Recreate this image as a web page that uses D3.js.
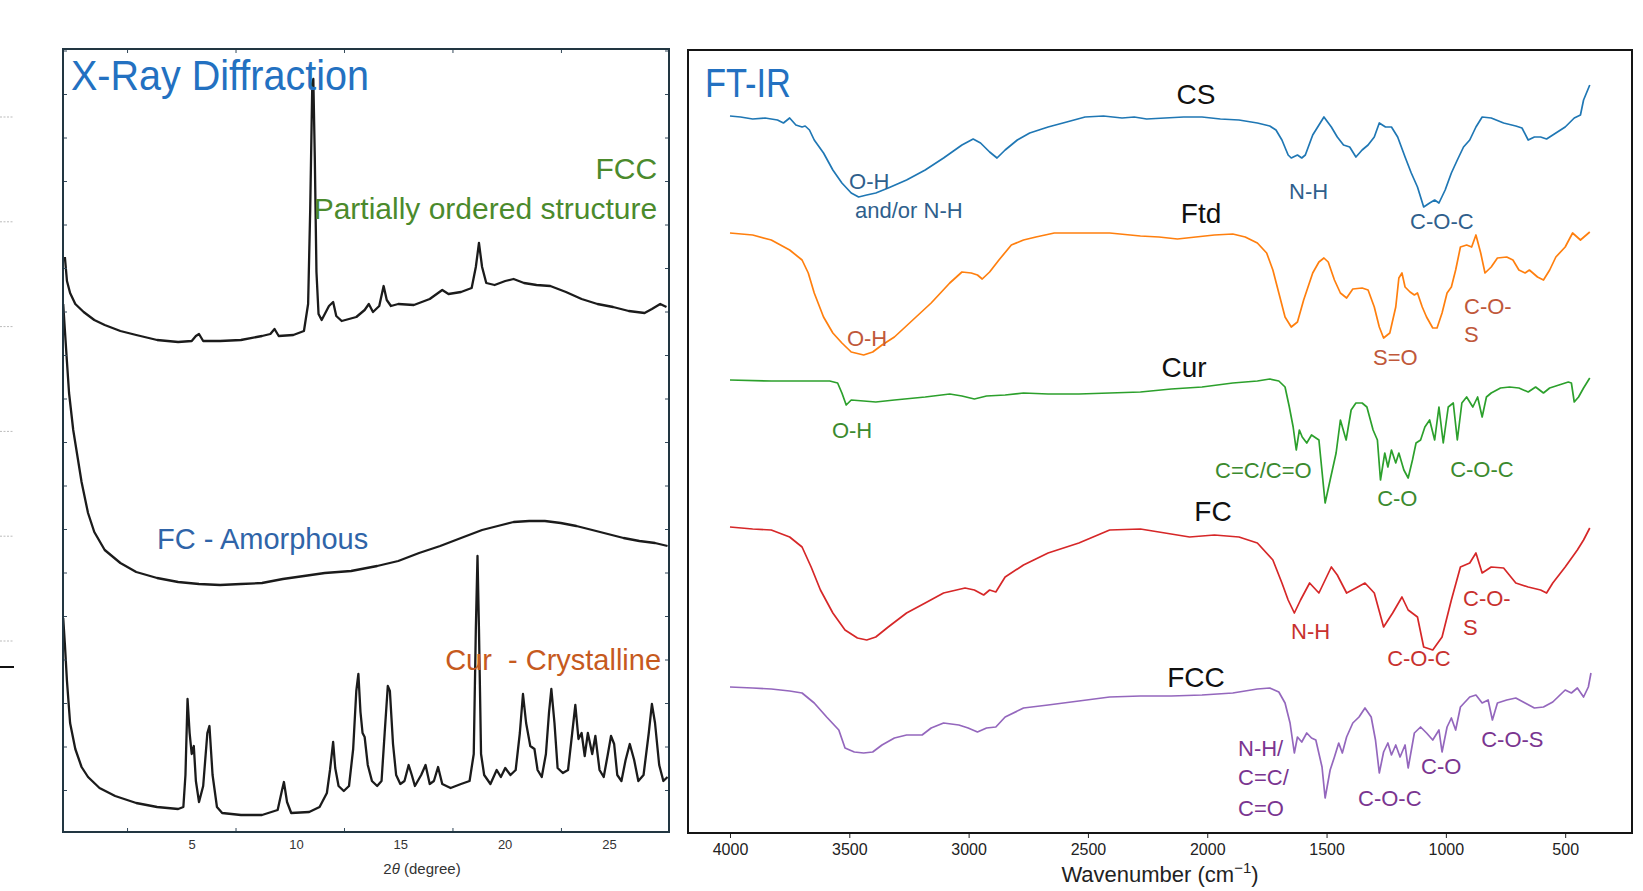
<!DOCTYPE html>
<html>
<head>
<meta charset="utf-8">
<script src="https://cdn.jsdelivr.net/npm/d3@7"></script>
<style>
  body { margin: 0; background: #fff; }
  text { font-family: "Liberation Sans", Arial, sans-serif; }
</style>
</head>
<body>
<svg id="chart" width="1643" height="891"></svg>
<script>
// ---- XRD patterns: [2theta (deg), intensity (a.u.)]
var xrdFCC = [[-1.08,575],[-0.98,551],[-0.83,539],[-0.58,528],[-0.18,520],[0.33,512],[0.83,507],[1.58,501],[2.34,497],[3.34,492],[4.35,490],[5.0,491],[5.2,496],[5.35,498],[5.55,491],[6.36,491],[7.36,492],[8.37,496],[8.77,498],[8.97,503],[9.17,496],[9.87,497],[10.38,501],[10.58,528],[10.68,622],[10.78,748],[10.83,753],[10.9,675],[10.98,560],[11.08,518],[11.23,512],[11.38,518],[11.58,526],[11.78,530],[11.93,516],[12.19,511],[12.89,515],[13.29,522],[13.49,528],[13.69,520],[13.99,526],[14.2,546],[14.35,532],[14.55,526],[14.9,528],[15.65,527],[16.41,533],[17.01,542],[17.31,538],[17.91,540],[18.42,544],[18.62,565],[18.77,589],[18.92,565],[19.12,549],[19.52,547],[20.03,551],[20.43,553],[20.93,549],[21.53,547],[22.19,546],[22.94,540],[23.69,533],[24.45,528],[25.2,525],[25.95,521],[26.71,519],[27.06,523],[27.46,528],[27.76,525]]
var xrdFC = [[-1.16,528],[-1.08,502],[-0.98,470],[-0.88,439],[-0.68,402],[-0.48,376],[-0.28,350],[0.03,319],[0.33,300],[0.83,282],[1.58,269],[2.34,260],[3.34,254],[4.35,250],[5.35,248],[6.36,247],[7.36,248],[8.37,249],[9.37,253],[10.38,256],[11.38,259],[12.64,261],[13.89,266],[14.9,271],[15.9,279],[16.91,286],[17.91,294],[18.92,302],[19.67,306],[20.43,310],[21.18,311],[21.93,311],[22.69,309],[23.44,306],[24.2,302],[24.95,298],[25.7,294],[26.46,291],[27.21,289],[27.81,286]]
var xrdCur = [[-1.16,214],[-1.08,188],[-0.98,151],[-0.83,109],[-0.58,83],[-0.28,65],[0.03,55],[0.58,44],[1.33,36],[2.34,29],[3.34,25],[4.35,23],[4.6,25],[4.7,57],[4.8,133],[4.9,99],[5.0,78],[5.1,86],[5.2,51],[5.35,30],[5.55,46],[5.75,99],[5.85,106],[6.0,57],[6.21,25],[6.46,19],[7.36,17],[8.37,17],[9.12,22],[9.32,41],[9.42,50],[9.57,30],[9.77,19],[10.63,20],[11.13,25],[11.48,39],[11.63,62],[11.78,90],[11.88,64],[12.04,46],[12.29,41],[12.54,46],[12.74,83],[12.89,141],[12.99,158],[13.09,120],[13.19,99],[13.29,95],[13.44,67],[13.64,51],[13.89,46],[14.1,51],[14.25,99],[14.4,146],[14.5,141],[14.65,88],[14.8,57],[15.0,48],[15.2,51],[15.4,67],[15.55,57],[15.7,46],[16.0,57],[16.21,67],[16.41,48],[16.61,51],[16.81,65],[17.01,48],[17.41,44],[17.91,48],[18.32,51],[18.52,78],[18.62,203],[18.7,276],[18.77,203],[18.87,78],[19.02,57],[19.32,48],[19.62,62],[19.82,55],[20.03,64],[20.28,57],[20.53,62],[20.73,99],[20.88,138],[21.03,109],[21.23,86],[21.43,83],[21.58,62],[21.78,55],[21.98,78],[22.13,120],[22.24,143],[22.39,109],[22.54,64],[22.79,59],[23.04,62],[23.24,99],[23.39,127],[23.54,93],[23.69,99],[23.84,76],[23.99,99],[24.2,78],[24.35,96],[24.55,62],[24.75,55],[24.95,78],[25.1,96],[25.25,88],[25.4,57],[25.6,51],[25.8,72],[26.0,88],[26.21,72],[26.41,51],[26.66,57],[26.91,99],[27.06,128],[27.21,109],[27.41,67],[27.61,51],[27.81,55]]
var xrdTicks = [5, 10, 15, 20, 25]
var xrdMinorTicks = [1.9, 7.1, 12.3, 17.5, 22.7]

// ---- FT-IR spectra: [wavenumber (cm-1), transmittance (a.u., offset)]
var irCS = [[4000,717],[3956,716],[3905,714],[3853,715],[3801,713],[3776,710],[3750,715],[3724,708],[3698,706],[3685,707],[3667,703],[3647,693],[3608,680],[3569,663],[3531,650],[3492,640],[3461,636],[3427,638],[3389,640],[3337,645],[3260,653],[3182,663],[3105,675],[3028,688],[2981,694],[2950,690],[2912,681],[2881,675],[2847,683],[2796,693],[2744,700],[2667,706],[2589,711],[2512,716],[2435,717],[2357,715],[2306,716],[2254,714],[2177,715],[2099,716],[2022,716],[1945,714],[1867,713],[1790,710],[1738,707],[1712,703],[1687,693],[1661,678],[1648,675],[1622,678],[1604,675],[1589,678],[1558,698],[1511,716],[1480,706],[1455,696],[1429,688],[1403,686],[1377,676],[1351,683],[1326,688],[1300,696],[1279,710],[1253,706],[1228,706],[1202,696],[1171,676],[1145,660],[1132,653],[1119,646],[1106,636],[1093,626],[1068,630],[1047,633],[1029,630],[1003,643],[977,660],[952,673],[926,686],[900,693],[874,706],[848,716],[810,715],[758,710],[707,707],[681,705],[655,693],[629,696],[603,696],[578,694],[552,698],[500,706],[462,715],[436,718],[423,733],[397,748]]
var irFtd = [[4000,600],[3905,598],[3827,593],[3750,583],[3698,573],[3672,560],[3647,540],[3608,516],[3569,500],[3531,490],[3492,481],[3440,478],[3402,481],[3363,488],[3311,496],[3234,513],[3157,530],[3079,550],[3028,561],[2989,560],[2963,558],[2943,554],[2912,561],[2873,573],[2821,588],[2770,593],[2718,596],[2641,600],[2538,600],[2409,600],[2280,597],[2202,596],[2125,594],[2048,596],[1970,598],[1893,599],[1841,596],[1790,590],[1751,580],[1725,563],[1700,540],[1674,516],[1648,506],[1622,511],[1596,533],[1558,560],[1532,571],[1511,575],[1493,571],[1467,553],[1442,540],[1416,535],[1390,544],[1351,545],[1326,543],[1300,526],[1279,506],[1261,495],[1235,500],[1210,526],[1197,555],[1184,560],[1171,546],[1150,541],[1132,538],[1119,540],[1099,526],[1081,516],[1055,505],[1037,505],[1016,520],[995,540],[977,546],[959,563],[939,586],[913,588],[892,586],[874,598],[854,580],[836,560],[810,566],[784,575],[745,576],[719,573],[694,563],[668,560],[650,563],[616,556],[591,553],[565,563],[539,576],[500,586],[469,600],[436,593],[397,601]]
var irCur = [[4000,453],[3827,452],[3698,452],[3582,452],[3549,450],[3531,440],[3513,428],[3492,433],[3440,432],[3389,431],[3311,433],[3182,436],[3079,439],[3028,437],[2976,434],[2925,437],[2847,438],[2770,440],[2667,439],[2538,439],[2409,440],[2280,441],[2151,444],[2022,446],[1893,450],[1790,452],[1738,454],[1700,452],[1674,446],[1656,426],[1640,406],[1627,383],[1614,403],[1602,396],[1583,390],[1563,398],[1532,393],[1506,330],[1485,353],[1460,380],[1442,413],[1418,393],[1397,423],[1377,430],[1351,430],[1331,426],[1305,403],[1287,393],[1274,353],[1256,380],[1243,366],[1228,383],[1210,370],[1197,380],[1176,363],[1158,355],[1140,373],[1125,390],[1106,393],[1088,406],[1068,413],[1047,393],[1029,426],[1011,390],[990,426],[969,430],[952,393],[933,430],[913,436],[887,426],[867,436],[848,416],[830,436],[810,440],[771,445],[733,446],[694,445],[655,441],[624,446],[591,440],[565,445],[526,448],[487,451],[474,450],[462,431],[444,436],[423,445],[397,455]]
var irFC = [[4000,306],[3905,304],[3827,303],[3750,296],[3698,286],[3660,266],[3621,243],[3569,220],[3518,203],[3466,195],[3427,193],[3389,196],[3337,206],[3260,220],[3182,230],[3105,240],[3015,245],[2976,243],[2937,238],[2912,243],[2886,241],[2847,256],[2770,268],[2667,280],[2538,290],[2409,303],[2280,304],[2177,300],[2074,296],[1970,298],[1867,296],[1790,290],[1725,273],[1687,250],[1661,233],[1635,220],[1609,233],[1571,250],[1532,240],[1480,266],[1455,258],[1416,240],[1377,245],[1339,250],[1300,240],[1261,206],[1223,220],[1184,236],[1158,223],[1119,216],[1093,186],[1055,183],[1016,196],[977,233],[939,266],[900,270],[874,280],[848,260],[810,266],[758,265],[707,250],[655,246],[603,243],[578,240],[552,250],[500,266],[449,283],[423,293],[397,305]]
var irFCC = [[4000,146],[3905,145],[3827,144],[3750,142],[3698,140],[3647,130],[3595,116],[3544,103],[3518,85],[3479,81],[3440,80],[3402,81],[3363,88],[3311,95],[3260,98],[3195,98],[3157,105],[3105,110],[3041,108],[3002,105],[2963,101],[2925,105],[2886,106],[2847,116],[2770,125],[2667,128],[2538,132],[2409,136],[2280,137],[2151,137],[2022,138],[1893,140],[1790,144],[1738,145],[1700,141],[1674,130],[1653,110],[1635,80],[1622,96],[1604,91],[1583,100],[1563,95],[1545,93],[1519,66],[1506,35],[1485,63],[1467,76],[1449,90],[1434,80],[1416,96],[1390,110],[1364,116],[1339,125],[1313,116],[1295,93],[1279,60],[1261,81],[1243,90],[1228,78],[1210,88],[1192,76],[1171,88],[1158,65],[1132,100],[1106,106],[1081,100],[1055,93],[1029,103],[1016,81],[995,106],[977,115],[959,103],[939,126],[900,136],[874,138],[848,130],[823,133],[805,113],[784,130],[745,133],[707,135],[668,130],[629,125],[591,126],[552,131],[500,143],[474,140],[449,145],[423,136],[403,146],[392,160]]
var irTicks = [4000, 3500, 3000, 2500, 2000, 1500, 1000, 500]

var irSeries = [
  { name: "CS",  data: irCS,  color: "#1f77b4", labelAt: [2047, 729] },
  { name: "Ftd", data: irFtd, color: "#ff7f0e", labelAt: [2026, 610] },
  { name: "Cur", data: irCur, color: "#2ca02c", labelAt: [2097, 456] },
  { name: "FC",  data: irFC,  color: "#d62728", labelAt: [1976, 312] },
  { name: "FCC", data: irFCC, color: "#9467bd", labelAt: [2047, 146] }
]

// band assignments: [text, wavenumber, level, colour]
var irBands = [
  ["O-H", 3501, 644, "#2f5f8c"], ["and/or N-H", 3476, 615, "#2f5f8c"],
  ["N-H", 1657, 634, "#2f5f8c"], ["C-O-C", 1150, 604, "#2f5f8c"],
  ["O-H", 3510, 487, "#c0583a"], ["S=O", 1305, 468, "#c0583a"],
  ["C-O-", 924, 519, "#c0583a"], ["S", 924, 491, "#c0583a"],
  ["O-H", 3573, 395, "#3b8a2e"], ["C=C/C=O", 1967, 355, "#3b8a2e"],
  ["C-O", 1288, 327, "#3b8a2e"], ["C-O-C", 982, 356, "#3b8a2e"],
  ["N-H", 1649, 194, "#c8312e"], ["C-O-C", 1246, 167, "#c8312e"],
  ["C-O-", 928, 227, "#c8312e"], ["S", 928, 198, "#c8312e"],
  ["N-H/", 1871, 77, "#7a3590"], ["C=C/", 1871, 48, "#7a3590"],
  ["C=O", 1871, 17, "#7a3590"], ["C-O-C", 1368, 27, "#7a3590"],
  ["C-O", 1104, 59, "#7a3590"], ["C-O-S", 852, 86, "#7a3590"]
]

var svg = d3.select("#chart")

drawXRD()
drawIR()

function drawXRD() {
    var x = d3.scaleLinear().domain([-1.17, 27.88]).range([63, 669])
    var y = d3.scaleLinear().domain([0, 783]).range([832, 49])

    // faint marks left over at the page edge
    svg.append("g").selectAll("line")
        .data(d3.range(117, 650, 104.8))
        .enter().append("line")
        .attr("x1", 0).attr("x2", 13)
        .attr("y1", function(d) { return d }).attr("y2", function(d) { return d })
        .attr("stroke", "#bbb").attr("stroke-dasharray", "2,1.5")
    svg.append("line").attr("x1", 0).attr("x2", 14).attr("y1", 667).attr("y2", 667)
        .attr("stroke", "#111").attr("stroke-width", 2)

    svg.append("clipPath").attr("id", "clipXrd")
        .append("rect").attr("x", 63).attr("y", 49).attr("width", 606).attr("height", 783)

    var line = d3.line()
        .x(function(d) { return x(d[0]) })
        .y(function(d) { return y(d[1]) })

    svg.append("g").attr("clip-path", "url(#clipXrd)")
        .selectAll("path")
        .data([xrdFCC, xrdFC, xrdCur])
        .enter().append("path")
        .attr("d", line)
        .attr("fill", "none")
        .attr("stroke", "#1b1b1b")
        .attr("stroke-width", 2.3)
        .attr("stroke-linejoin", "round")

    // inward ticks all round
    var tickVals = d3.range(42, 783, 43.5)
    svg.append("g").attr("transform", "translate(63,0)")
        .call(d3.axisLeft(y).tickValues(tickVals).tickSize(-4).tickFormat(""))
    svg.append("g").attr("transform", "translate(669,0)")
        .call(d3.axisRight(y).tickValues(tickVals).tickSize(-4).tickFormat(""))
    svg.append("g").attr("transform", "translate(0,49)")
        .call(d3.axisTop(x).tickValues(xrdMinorTicks).tickSize(-4).tickFormat(""))
    svg.append("g").attr("transform", "translate(0,832)")
        .call(d3.axisBottom(x).tickValues(xrdMinorTicks).tickSize(-4).tickFormat(""))
    var labels = svg.append("g").attr("transform", "translate(0,832)")
        .call(d3.axisBottom(x).tickValues(xrdTicks).tickSize(0).tickPadding(8))
    labels.selectAll("text").attr("font-family", "DejaVu Sans").attr("font-size", 13).attr("fill", "#333")
    svg.selectAll(".domain").remove()
    svg.selectAll(".tick line").attr("stroke", "#34495a")

    svg.append("rect").attr("x", 63).attr("y", 49).attr("width", 606).attr("height", 783)
        .attr("fill", "none").attr("stroke", "#223642").attr("stroke-width", 2)

    svg.append("text").attr("x", 422).attr("y", 874)
        .attr("text-anchor", "middle").attr("font-family", "DejaVu Sans")
        .attr("font-size", 15).attr("fill", "#333")
        .html("2<tspan font-style='italic'>θ</tspan> (degree)")

    svg.append("text").attr("x", x(-0.79)).attr("y", y(742))
        .attr("font-size", 42).attr("textLength", 298).attr("lengthAdjust", "spacingAndGlyphs")
        .attr("fill", "#2371c1").text("X-Ray Diffraction")
    svg.append("text").attr("x", x(27.31)).attr("y", y(653))
        .attr("text-anchor", "end").attr("font-size", 30).attr("fill", "#4b8a2c").text("FCC")
    svg.append("text").attr("x", x(27.31)).attr("y", y(613))
        .attr("text-anchor", "end").attr("font-size", 30).attr("fill", "#4b8a2c")
        .text("Partially ordered structure")
    svg.append("text").attr("x", x(3.34)).attr("y", y(283))
        .attr("font-size", 29).attr("fill", "#2f64a8").text("FC - Amorphous")
    svg.append("text").attr("x", x(27.5)).attr("y", y(162))
        .attr("text-anchor", "end").attr("font-size", 29).attr("fill", "#c65a1e")
        .style("white-space", "pre").text("Cur  - Crystalline")
}

function drawIR() {
    var x = d3.scaleLinear().domain([4176, 220]).range([688, 1632])
    var y = d3.scaleLinear().domain([0, 783]).range([833, 50])

    var line = d3.line()
        .x(function(d) { return x(d[0]) })
        .y(function(d) { return y(d[1]) })

    svg.append("g").selectAll("path")
        .data(irSeries)
        .enter().append("path")
        .attr("d", function(d) { return line(d.data) })
        .attr("fill", "none")
        .attr("stroke", function(d) { return d.color })
        .attr("stroke-width", 1.7)
        .attr("stroke-linejoin", "round")

    svg.append("g").selectAll("text")
        .data(irSeries)
        .enter().append("text")
        .attr("x", function(d) { return x(d.labelAt[0]) })
        .attr("y", function(d) { return y(d.labelAt[1]) })
        .attr("text-anchor", "middle")
        .attr("font-size", 28)
        .attr("fill", "#111")
        .text(function(d) { return d.name })

    svg.append("g").selectAll("text")
        .data(irBands)
        .enter().append("text")
        .attr("x", function(d) { return x(d[1]) })
        .attr("y", function(d) { return y(d[2]) })
        .attr("font-size", 22)
        .attr("fill", function(d) { return d[3] })
        .text(function(d) { return d[0] })

    var ax = svg.append("g").attr("transform", "translate(0,833)")
        .call(d3.axisBottom(x).tickValues(irTicks).tickSize(5).tickPadding(6).tickFormat(d3.format("d")))
    ax.select(".domain").remove()
    ax.selectAll("text").attr("font-family", "DejaVu Sans").attr("font-size", 16).attr("fill", "#222")
    ax.selectAll("line").attr("stroke", "#222")

    svg.append("rect").attr("x", 688).attr("y", 50).attr("width", 944).attr("height", 783)
        .attr("fill", "none").attr("stroke", "#151515").attr("stroke-width", 2)

    // axis title kept just inside the bottom edge
    svg.append("text").attr("x", 1160).attr("y", 882)
        .attr("text-anchor", "middle").attr("font-family", "DejaVu Sans")
        .attr("font-size", 22).attr("fill", "#222")
        .html("Wavenumber (cm<tspan font-size='15' dy='-9'>−1</tspan><tspan dy='9'>)</tspan>")

    svg.append("text").attr("x", x(4105)).attr("y", y(736))
        .attr("font-size", 40).attr("textLength", 86).attr("lengthAdjust", "spacingAndGlyphs")
        .attr("fill", "#2371c1").text("FT-IR")
}
</script>
</body>
</html>
